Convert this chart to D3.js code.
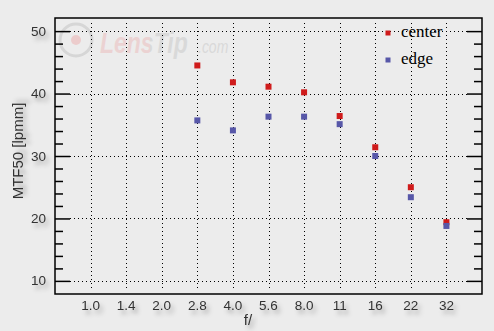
<!DOCTYPE html>
<html>
<head>
<meta charset="utf-8">
<script src="https://cdn.jsdelivr.net/npm/d3@7"></script>
<style>
    body { margin: 0; background: #ececec; }
    svg { display: block; }
</style>
</head>
<body>
<div id="chart"></div>
<script>
// f-stops on the x axis
const apertures = ["1.0", "1.4", "2.0", "2.8", "4.0", "5.6", "8.0", "11", "16", "22", "32"];
// measured MTF50 values (only from 2.8 onwards)
const centerStops = ["2.8", "4.0", "5.6", "8.0", "11", "16", "22", "32"];
const centerValues = [44.5, 41.8, 41.1, 40.2, 36.4, 31.4, 25.0, 19.4];
const edgeStops = ["2.8", "4.0", "5.6", "8.0", "11", "16", "22", "32"];
const edgeValues = [35.7, 34.1, 36.3, 36.3, 35.1, 30.0, 23.4, 18.8];
const yTicks = [10, 20, 30, 40, 50];
const yMinorTicks = [12, 14, 16, 18, 22, 24, 26, 28, 32, 34, 36, 38, 42, 44, 46, 48];

const width = 494, height = 331;
const plot = {left: 55, right: 482, top: 18, bottom: 294};

const svg = d3.select("#chart").append("svg")
    .attr("width", width)
    .attr("height", height);

svg.append("rect")
    .attr("width", width).attr("height", height)
    .attr("fill", "#ececec");

const defs = svg.append("defs");

// soft shadow behind axis texts
const shadow = defs.append("filter").attr("id", "shadow")
    .attr("x", "-30%").attr("y", "-30%").attr("width", "180%").attr("height", "180%");
shadow.append("feDropShadow")
    .attr("dx", 3).attr("dy", 4)
    .attr("stdDeviation", 2.2)
    .attr("flood-color", "#000")
    .attr("flood-opacity", 0.3);

// two-tone fill for the watermark word (pink "Lens", grey "Tip")
const wmFill = defs.append("linearGradient").attr("id", "wmFill")
    .attr("gradientUnits", "userSpaceOnUse")
    .attr("x1", 100).attr("x2", 190).attr("y1", 0).attr("y2", 0);
wmFill.append("stop").attr("offset", 0.56).attr("stop-color", "#ebd2d2");
wmFill.append("stop").attr("offset", 0.56).attr("stop-color", "#d9d9d9");

const xScale = d3.scalePoint()
    .domain(apertures)
    .range([plot.left, plot.right])
    .padding(1);

const yScale = d3.scaleLinear()
    .domain([7.9, 52.1])
    .range([plot.bottom, plot.top]);

// watermark (narrow lettering: natural width, stretched vertically)
const wm = svg.append("g").attr("class", "watermark");
wm.append("circle")
    .attr("cx", 76).attr("cy", 40).attr("r", 16)
    .attr("fill", "none").attr("stroke", "#d6d6d6").attr("stroke-width", 3);
wm.append("circle")
    .attr("cx", 76).attr("cy", 40).attr("r", 5)
    .attr("fill", "#eccccc");
wm.append("text")
    .attr("transform", "translate(0,53) scale(1,1.3)")
    .attr("x", 100).attr("y", 0)
    .attr("font-family", "Liberation Sans, Arial, sans-serif")
    .attr("font-size", 23).attr("font-weight", "bold").attr("font-style", "italic")
    .attr("fill", "url(#wmFill)")
    .text("LensTip");
wm.append("text")
    .attr("transform", "translate(0,53) scale(1,1.3)")
    .attr("x", 198).attr("y", 0)
    .attr("font-family", "Liberation Sans, Arial, sans-serif")
    .attr("font-size", 14).attr("font-style", "italic")
    .attr("fill", "#d9d9d9")
    .text(".com");

// dotted grid
const grid = svg.append("g").attr("class", "grid")
    .attr("stroke", "#000").attr("stroke-width", 1)
    .attr("stroke-dasharray", "1,3");

grid.selectAll(".vLine")
    .data(apertures)
    .join("line")
    .attr("class", "vLine")
    .attr("x1", d => Math.round(xScale(d)) + 0.5)
    .attr("x2", d => Math.round(xScale(d)) + 0.5)
    .attr("y1", plot.top + 5)
    .attr("y2", plot.bottom - 4);

grid.selectAll(".hLine")
    .data(yTicks)
    .join("line")
    .attr("class", "hLine")
    .attr("x1", plot.left + 15)
    .attr("x2", plot.right - 15)
    .attr("y1", d => Math.round(yScale(d)) + 0.5)
    .attr("y2", d => Math.round(yScale(d)) + 0.5);

// frame
svg.append("rect")
    .attr("x", plot.left).attr("y", plot.top)
    .attr("width", plot.right - plot.left)
    .attr("height", plot.bottom - plot.top)
    .attr("fill", "none")
    .attr("stroke", "#000").attr("stroke-width", 1.5);

// y axes on both sides, ticks pointing inwards
const leftAxis = svg.append("g")
    .attr("transform", "translate(" + plot.left + ",0)");
leftAxis.call(d3.axisRight(yScale).tickValues(yTicks).tickSize(15).tickFormat(""));
leftAxis.append("g")
    .call(d3.axisRight(yScale).tickValues(yMinorTicks).tickSize(8).tickFormat(""));

const rightAxis = svg.append("g")
    .attr("transform", "translate(" + plot.right + ",0)");
rightAxis.call(d3.axisLeft(yScale).tickValues(yTicks).tickSize(15).tickFormat(""));
rightAxis.append("g")
    .call(d3.axisLeft(yScale).tickValues(yMinorTicks).tickSize(8).tickFormat(""));

svg.selectAll(".domain").remove();
svg.selectAll(".tick line").attr("stroke", "#000").attr("stroke-width", 1.5);

// tick labels
const labelFont = "Liberation Sans, Arial, sans-serif";
svg.append("g").attr("filter", "url(#shadow)")
    .selectAll("text")
    .data(yTicks)
    .join("text")
    .attr("x", 46)
    .attr("y", d => yScale(d) + 4.5)
    .attr("text-anchor", "end")
    .attr("font-family", labelFont)
    .attr("font-size", 13.5)
    .attr("fill", "#333")
    .text(d => d);

svg.append("g").attr("filter", "url(#shadow)")
    .selectAll("text")
    .data(apertures)
    .join("text")
    .attr("x", d => xScale(d))
    .attr("y", 310)
    .attr("text-anchor", "middle")
    .attr("font-family", labelFont)
    .attr("font-size", 13.5)
    .attr("fill", "#333")
    .text(d => d);

// axis titles
svg.append("text")
    .attr("filter", "url(#shadow)")
    .attr("x", 248).attr("y", 325)
    .attr("text-anchor", "middle")
    .attr("font-family", labelFont)
    .attr("font-size", 15)
    .attr("fill", "#333")
    .text("f/");

svg.append("text")
    .attr("filter", "url(#shadow)")
    .attr("transform", "translate(23,151) rotate(-90)")
    .attr("text-anchor", "middle")
    .attr("font-family", labelFont)
    .attr("font-size", 15)
    .attr("fill", "#333")
    .text("MTF50 [lpmm]");

// markers
const markerSize = 6;
const series = [
    {name: "center", color: "#cf1b1b", stops: centerStops, values: centerValues},
    {name: "edge", color: "#5757a8", stops: edgeStops, values: edgeValues}
];

series.forEach(s => {
    svg.append("g").attr("class", "series-" + s.name)
        .selectAll("rect")
        .data(s.values)
        .join("rect")
        .attr("x", (d, i) => xScale(s.stops[i]) - markerSize / 2)
        .attr("y", d => yScale(d) - markerSize / 2)
        .attr("width", markerSize)
        .attr("height", markerSize)
        .attr("fill", s.color);
});

// legend
const legend = svg.append("g").attr("class", "legend");
series.forEach((s, i) => {
    const ly = 33 + i * 27;
    legend.append("rect")
        .attr("x", 385.5).attr("y", ly - 2.5)
        .attr("width", 5).attr("height", 5)
        .attr("fill", s.color);
    legend.append("text")
        .attr("x", 401).attr("y", ly + 4)
        .attr("font-family", "Liberation Serif, Times New Roman, serif")
        .attr("font-size", 17)
        .attr("fill", "#000")
        .text(s.name);
});
</script>
</body>
</html>
